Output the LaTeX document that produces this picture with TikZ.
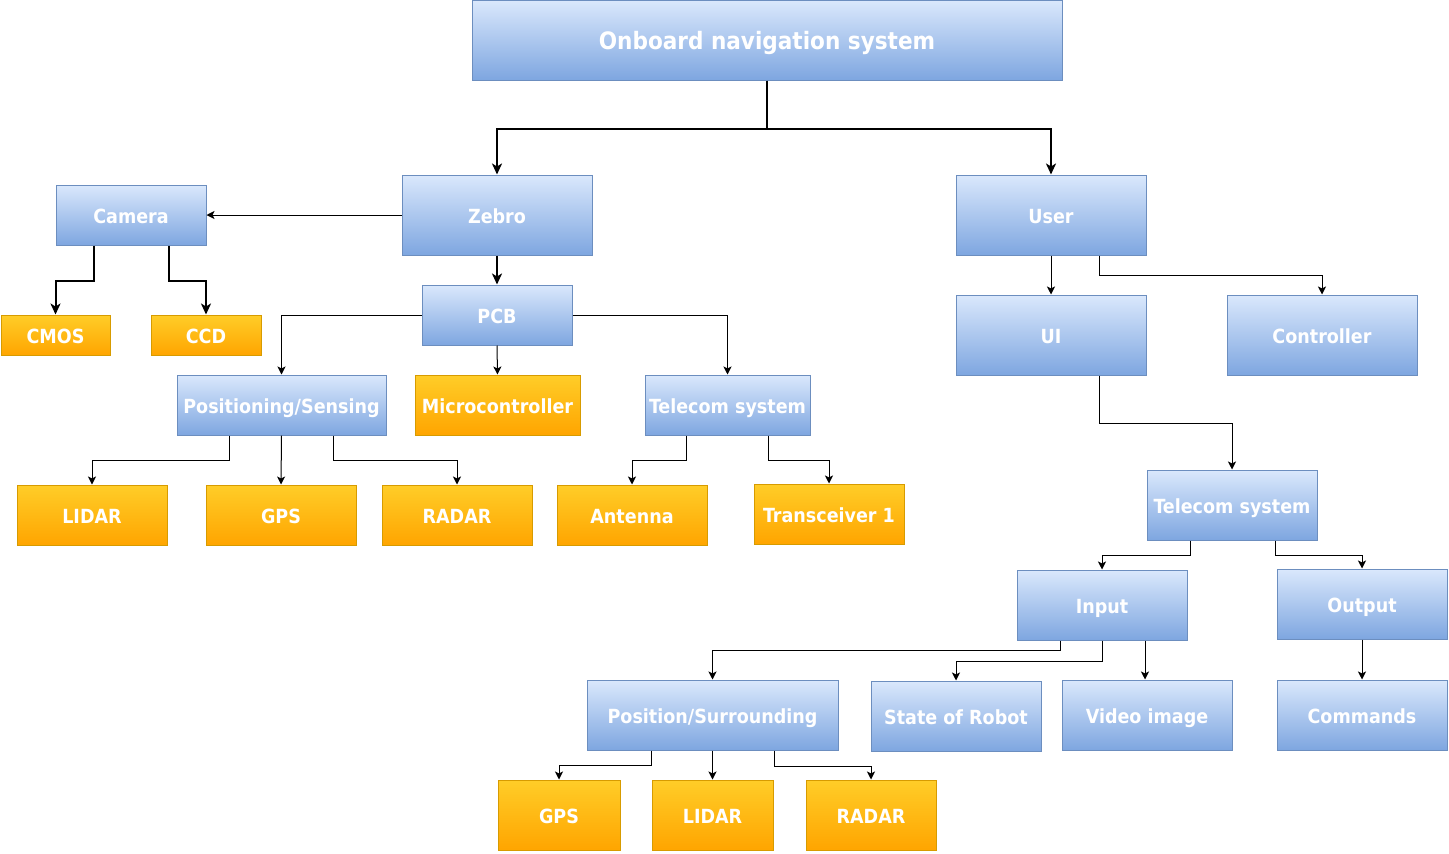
\documentclass[tikz,border=0pt]{standalone}
\usepackage{fontspec}
\setmainfont{DejaVu Sans Condensed}
\usetikzlibrary{arrows.meta,calc}
\definecolor{bTop}{HTML}{DAE8FC}
\definecolor{bBot}{HTML}{7EA6E0}
\definecolor{bLine}{HTML}{6C8EBF}
\definecolor{oTop}{HTML}{FFCD28}
\definecolor{oBot}{HTML}{FFA500}
\definecolor{oLine}{HTML}{D79B00}
\begin{document}
\begin{tikzpicture}[x=1pt,y=-1pt,
  box/.style={inner sep=0pt, line width=1pt, text=white,
    font=\bfseries\fontsize{19.5}{22}\selectfont, text height=19pt, text depth=3pt},
  bluebox/.style={box, draw=bLine, top color=bTop, bottom color=bBot},
  orangebox/.style={box, draw=oLine, top color=oTop, bottom color=oBot},
  thin/.style={line width=1pt, -{Stealth[length=8pt,width=8pt,inset=2pt]}},
  thick/.style={line width=2pt, -{Stealth[length=11pt,width=10pt,inset=3pt]}}
]
\useasboundingbox (0,0) rectangle (1449,854);
% blue nodes
\node[bluebox, minimum width=590pt, minimum height=80pt, font=\bfseries\fontsize{24}{28}\selectfont, text height=22.5pt, text depth=3pt] (top) at (767,40) {Onboard navigation system};
\node[bluebox, minimum width=190pt, minimum height=80pt] (zebro) at (497,215) {Zebro};
\node[bluebox, minimum width=190pt, minimum height=80pt] (user) at (1051,215) {User};
\node[bluebox, minimum width=150pt, minimum height=60pt] (cam) at (131,215) {Camera};
\node[bluebox, minimum width=150pt, minimum height=60pt] (pcb) at (497,315) {PCB};
\node[bluebox, minimum width=209pt, minimum height=60pt] (ps) at (281.5,405) {Positioning/Sensing};
\node[bluebox, minimum width=165pt, minimum height=60pt] (tell) at (727.5,405) {Telecom system};
\node[bluebox, minimum width=190pt, minimum height=80pt] (ui) at (1051,335) {UI};
\node[bluebox, minimum width=190pt, minimum height=80pt] (ctrl) at (1322,335) {Controller};
\node[bluebox, minimum width=170pt, minimum height=70pt] (telr) at (1232,505) {Telecom system};
\node[bluebox, minimum width=170pt, minimum height=70pt] (input) at (1102,605) {Input};
\node[bluebox, minimum width=170pt, minimum height=70pt] (output) at (1362,604) {Output};
\node[bluebox, minimum width=251pt, minimum height=70pt] (possur) at (712.5,715) {Position/Surrounding};
\node[bluebox, minimum width=170pt, minimum height=70pt] (state) at (956,716) {State of Robot};
\node[bluebox, minimum width=170pt, minimum height=70pt] (video) at (1147,715) {Video image};
\node[bluebox, minimum width=170pt, minimum height=70pt] (cmd) at (1362,715) {Commands};
% orange nodes
\node[orangebox, minimum width=109pt, minimum height=40pt] (cmos) at (55.5,335) {CMOS};
\node[orangebox, minimum width=110pt, minimum height=40pt] (ccd) at (206,335) {CCD};
\node[orangebox, minimum width=165pt, minimum height=60pt] (micro) at (497.5,405) {Microcontroller};
\node[orangebox, minimum width=150pt, minimum height=60pt] (lidar) at (92,515) {LIDAR};
\node[orangebox, minimum width=150pt, minimum height=60pt] (gps) at (281,515) {GPS};
\node[orangebox, minimum width=150pt, minimum height=60pt] (radar) at (457,515) {RADAR};
\node[orangebox, minimum width=150pt, minimum height=60pt] (ant) at (632,515) {Antenna};
\node[orangebox, minimum width=150pt, minimum height=60pt] (trans) at (829,514) {Transceiver 1};
\node[orangebox, minimum width=122pt, minimum height=70pt] (gpsb) at (559,815) {GPS};
\node[orangebox, minimum width=121pt, minimum height=70pt] (lidarb) at (712.5,815) {LIDAR};
\node[orangebox, minimum width=130pt, minimum height=70pt] (radarb) at (871,815) {RADAR};
% connectors
\draw[thick] (top.south) -- ++(0,48) -| (zebro.north);
\draw[thick] (top.south) -- ++(0,48) -| (user.north);
\draw[thin] (zebro.west) -- (cam.east);
\draw[thick] (zebro.south) -- (pcb.north);
\draw[thick] ([xshift=-37pt]cam.south) -- ++(0,35) -| (cmos.north);
\draw[thick] ([xshift=38pt]cam.south) -- ++(0,35) -| (ccd.north);
\draw[thin] (pcb.west) -| (ps.north);
\draw[thin] (pcb.south) -- (micro.north);
\draw[thin] (pcb.east) -| (tell.north);
\draw[thin] ([xshift=-52pt]ps.south) -- ++(0,25) -| (lidar.north);
\draw[thin] (ps.south) -- (gps.north);
\draw[thin] ([xshift=52pt]ps.south) -- ++(0,25) -| (radar.north);
\draw[thin] ([xshift=-41pt]tell.south) -- ++(0,25) -| (ant.north);
\draw[thin] ([xshift=41pt]tell.south) -- ++(0,25) -| (trans.north);
\draw[thin] (user.south) -- (ui.north);
\draw[thin] ([xshift=48pt]user.south) -- ++(0,20) -| (ctrl.north);
\draw[thin] ([xshift=48pt]ui.south) -- ++(0,48) -| (telr.north);
\draw[thin] ([xshift=-42pt]telr.south) -- ++(0,15) -| (input.north);
\draw[thin] ([xshift=43pt]telr.south) -- ++(0,15) -| (output.north);
\draw[thin] ([xshift=-42pt]input.south) -- ++(0,10) -| (possur.north);
\draw[thin] (input.south) -- ++(0,21) -| (state.north);
\draw[thin] ([xshift=43pt]input.south) -- ([xshift=43pt]input.south |- video.north);
\draw[thin] (output.south) -- (cmd.north);
\draw[thin] ([xshift=-61pt]possur.south) -- ++(0,15) -| (gpsb.north);
\draw[thin] (possur.south) -- (lidarb.north);
\draw[thin] ([xshift=62pt]possur.south) -- ++(0,16) -| (radarb.north);
\end{tikzpicture}
\end{document}
